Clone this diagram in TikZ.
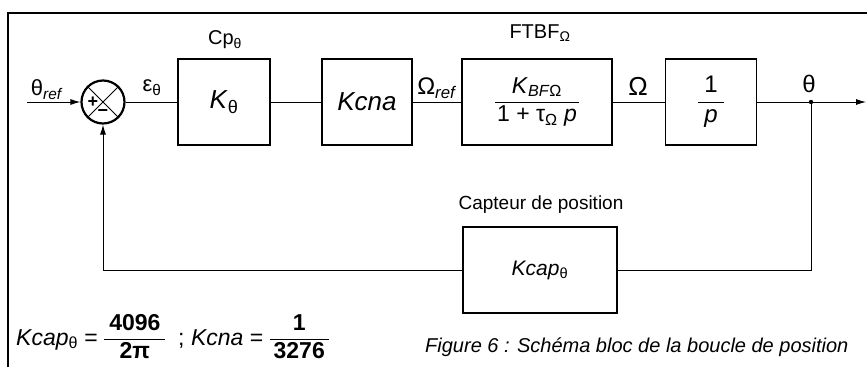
\documentclass[tikz,border=0pt]{standalone}
\usepackage{fontspec}
\setmainfont{Liberation Sans}
\usetikzlibrary{arrows.meta,calc}
\newcommand\fsize[1]{\fontsize{#1}{#1}\selectfont}
\newcommand\blockfrac[3][2pt]{{\setlength\arrayrulewidth{1pt}%
  \renewcommand\arraystretch{1.2}%
  \begin{tabular}[c]{@{\hspace{#1}}c@{\hspace{#1}}}#2\\\hline #3\end{tabular}}}

\begin{document}
\begin{tikzpicture}[x=1pt,y=-1pt,
  every node/.style={font=\fsize{22}, inner sep=0pt},
  block/.style={draw,line width=1.8pt,minimum height=86pt},
  sig/.style={line width=0.9pt},
  >={Latex[length=10pt,width=6pt]}]
  \useasboundingbox (0,0) rectangle (867,367);

  % frame
  \draw[line width=1.6pt] (8,367) -- (8,13) -- (870,13);

  % sum junction
  \node[circle,draw,line width=2.2pt,minimum size=43pt] (sum) at (103,102) {};
  \draw[line width=1pt] (sum.north west) -- (sum.south east)
    (sum.north east) -- (sum.south west);
  \node[font=\fsize{18}\bfseries] (plus) at ($(sum.center)+(-10,0)$) {+};
  \node[font=\fsize{18}\bfseries] (minus) at ($(sum.center)+(0,11)$) {−};

  % forward path
  \node[block,minimum width=92pt,font=\fsize{26}] (kt) at (224,102) {\textit{K}\textsubscript{θ}};
  \node[block,minimum width=90pt,font=\fsize{26}] (kcna) at (367,102) {\textit{Kcna}};
  \node[block,minimum width=150pt,font=\fsize{23}] (ftbf) at (537,102)
    {\blockfrac{\textit{K}\textsubscript{\textit{BF}Ω}}{1 + τ\textsubscript{Ω} \textit{p}}};
  \node[block,minimum width=91pt,font=\fsize{24}] (integ) at (711,102)
    {\blockfrac[6pt]{1}{\textit{p}}};

  % feedback
  \node[block,minimum width=154pt,font=\fsize{21}] (kcap) at (540,270) {\textit{Kcap}\textsubscript{θ}};

  \coordinate (in) at (27,102);
  \coordinate (br) at (811,102);
  \coordinate (out) at (866,102);

  \draw[sig,->] (in) -- (sum.west);
  \draw[sig] (sum.east) -- (kt.west);
  \draw[sig] (kt.east) -- (kcna.west);
  \draw[sig] (kcna.east) -- (ftbf.west);
  \draw[sig] (ftbf.east) -- (integ.west);
  \draw[sig,->] (integ.east) -- (out);
  \fill (br) circle (2.2pt);
  \draw[sig] (br) |- (kcap.east);
  \draw[sig,->] (kcap.west) -| (sum.south);

  % labels
  \node (thref) at (47,90) {θ\textsubscript{\textit{ref}}};
  \node (eps) at (152,88) {ε\textsubscript{θ}};
  \node[font=\fsize{24}] (omref) at (437,88) {Ω\textsubscript{\textit{ref}}};
  \node[font=\fsize{26}] (om) at (638,86) {Ω};
  \node[font=\fsize{24}] (th) at (809,84) {θ};
  \node[font=\fsize{20}] (cp) at (225,40) {Cp\textsubscript{θ}};
  \node[font=\fsize{20}] (ftbflbl) at (540,33) {FTBF\textsubscript{Ω}};
  \node[font=\fsize{19}] (capt) at (541,205) {Capteur de position};

  % gains and caption
  \node[anchor=west,font=\fsize{23}] (gains) at (16,339)
    {\textit{Kcap}\textsubscript{θ} = {\bfseries\blockfrac[5pt]{4096}{2π}}\; ;
     \textit{Kcna} = {\bfseries\blockfrac[4pt]{1}{3276}}};
  \node[anchor=west,font=\fsize{20}\itshape] (fig) at (425,347)
    {Figure 6 : Schéma bloc de la boucle de position};
\end{tikzpicture}
\end{document}
